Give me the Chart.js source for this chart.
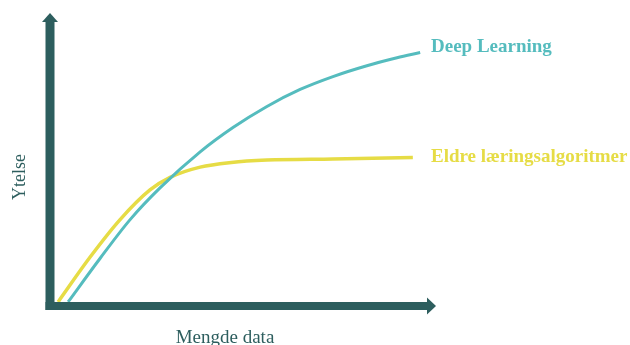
<!DOCTYPE html>
<html>
<head>
<meta charset="utf-8">
<script src="https://cdn.jsdelivr.net/npm/chart.js@4"></script>
<style>
  html, body { margin: 0; padding: 0; background: #ffffff; }
  #wrap { width: 630px; height: 345px; position: relative; }
</style>
</head>
<body>
<div id="wrap"><canvas id="c"></canvas></div>
<script>
// Amount of data (x) vs. performance (y), both on a 0–100 scale
const dataAmountDeep = [4.7, 13, 20.7, 28.5, 38.9, 47.4, 56.2, 64.8, 73.3, 82.1, 89.9, 95.9];
const perfDeep       = [1.4, 16.3, 29.4, 40.3, 52.6, 60.9, 68.1, 73.9, 78.3, 82.0, 84.7, 86.5];

const dataAmountOld = [2.1, 10.4, 18.1, 25.9, 31.1, 38.9, 47, 56.2, 73.3, 94];
const perfOld       = [1.4, 16.7, 29.4, 39.6, 43.9, 47.4, 49, 49.8, 50.2, 50.7];

const seriesNames = ['Deep Learning', 'Eldre læringsalgoritmer'];
const axisTitleX = 'Mengde data';
const axisTitleY = 'Ytelse';

const AXIS_COLOR = '#2d5e5e';
const TEAL = '#55bcbe';
const YELLOW = '#e6dc45';

const toPoints = (xs, ys) => xs.map((x, i) => ({ x, y: ys[i] }));

// Draws the arrowed axes, the axis titles and the end-of-line series labels
const axesPlugin = {
  id: 'arrowAxes',
  afterDatasetsDraw(chart) {
    const ctx = chart.ctx;
    const a = chart.chartArea;
    const xs = chart.scales.x, ys = chart.scales.y;
    const x0 = xs.getPixelForValue(0);
    const y0 = ys.getPixelForValue(0);
    ctx.save();
    ctx.fillStyle = AXIS_COLOR;
    // vertical axis
    ctx.fillRect(x0 - 4.5, a.top + 8, 9, y0 + 4 - (a.top + 8));
    ctx.beginPath();
    ctx.moveTo(x0, a.top);
    ctx.lineTo(x0 + 8, a.top + 9);
    ctx.lineTo(x0 - 8, a.top + 9);
    ctx.closePath();
    ctx.fill();
    // horizontal axis
    ctx.fillRect(x0 - 4.5, y0 - 4, a.right - 8 - (x0 - 4.5), 8);
    ctx.beginPath();
    ctx.moveTo(a.right, y0);
    ctx.lineTo(a.right - 9, y0 - 8.5);
    ctx.lineTo(a.right - 9, y0 + 8.5);
    ctx.closePath();
    ctx.fill();

    // axis titles
    ctx.font = '19px "Liberation Serif", "Times New Roman", serif';
    ctx.fillStyle = AXIS_COLOR;
    ctx.textAlign = 'center';
    ctx.textBaseline = 'alphabetic';
    ctx.fillText(axisTitleX, 225, 343);
    ctx.save();
    ctx.translate(25, 177);
    ctx.rotate(-Math.PI / 2);
    ctx.font = '18px "Liberation Serif", "Times New Roman", serif';
    ctx.fillText(axisTitleY, 0, 0);
    ctx.restore();

    // series labels to the right of the line ends
    ctx.font = 'bold 19px "Liberation Serif", "Times New Roman", serif';
    ctx.textAlign = 'left';
    ctx.textBaseline = 'middle';
    const labelX = a.right - 5;
    const dy = [-5, 0];
    chart.data.datasets.forEach((ds, i) => {
      const meta = chart.getDatasetMeta(i);
      const last = meta.data[meta.data.length - 1];
      ctx.fillStyle = ds.borderColor;
      ctx.fillText(seriesNames[i], labelX, last.y + dy[i]);
    });
    ctx.restore();
  }
};

new Chart(document.getElementById('c'), {
  type: 'line',
  data: {
    datasets: [
      {
        label: seriesNames[0],
        data: toPoints(dataAmountDeep, perfDeep),
        borderColor: TEAL,
        borderWidth: 3,
        pointRadius: 0,
        cubicInterpolationMode: 'monotone',
        fill: false
      },
      {
        label: seriesNames[1],
        data: toPoints(dataAmountOld, perfOld),
        borderColor: YELLOW,
        borderWidth: 3.5,
        pointRadius: 0,
        cubicInterpolationMode: 'monotone',
        fill: false
      }
    ]
  },
  options: {
    responsive: true,
    maintainAspectRatio: false,
    animation: false,
    layout: { padding: { left: 50, right: 194, top: 13, bottom: 39 } },
    scales: {
      x: { type: 'linear', min: 0, max: 100, display: false },
      y: { type: 'linear', min: 0, max: 100, display: false }
    },
    plugins: {
      legend: { display: false },
      tooltip: { enabled: false }
    }
  },
  plugins: [axesPlugin]
});
</script>
</body>
</html>
